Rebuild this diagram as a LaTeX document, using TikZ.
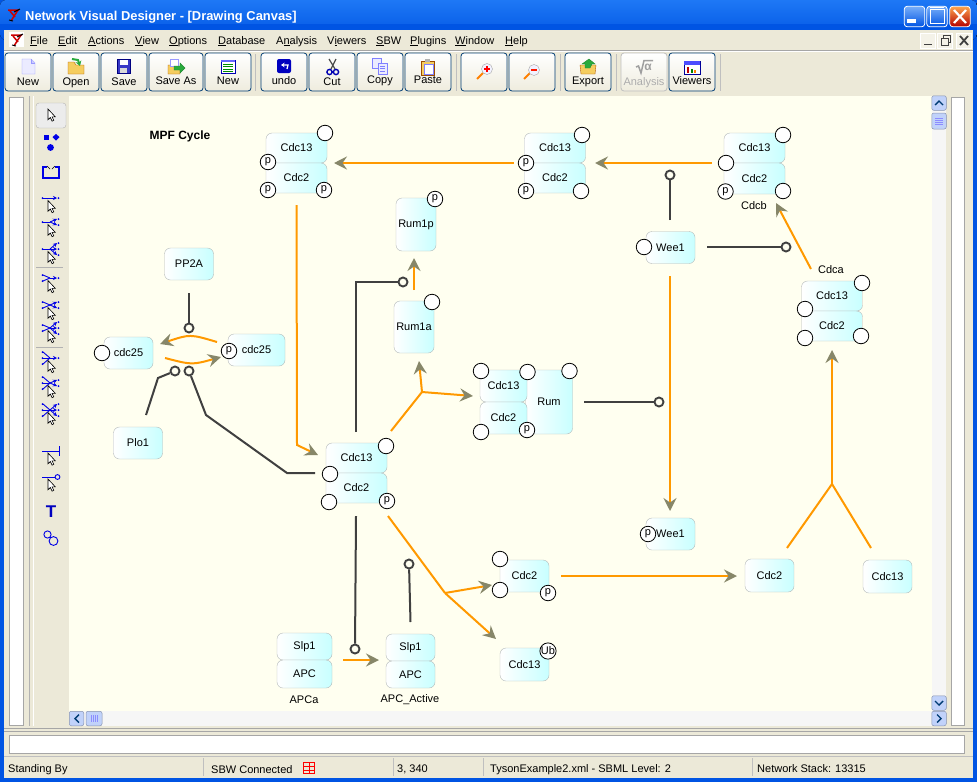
\documentclass[tikz,border=0pt]{standalone}
\usepackage{fontspec}
\usepackage{xcolor}
\usepackage{tikz}
\usetikzlibrary{arrows.meta}
\setmainfont{Liberation Sans}
\definecolor{xpblue}{RGB}{0, 84, 227}
\definecolor{xplight}{RGB}{30, 120, 245}
\definecolor{xpface}{RGB}{236, 233, 216}
\definecolor{canvas}{RGB}{255, 255, 240}
\definecolor{boxgray}{RGB}{180, 185, 185}
\definecolor{boxcyan}{RGB}{200, 255, 255}
\definecolor{lorange}{RGB}{255, 153, 0}
\definecolor{tipgray}{RGB}{135, 135, 105}
\definecolor{ldark}{RGB}{64, 64, 64}
\definecolor{btnblue}{RGB}{0, 60, 116}
\definecolor{scrollb}{RGB}{193, 210, 250}
\definecolor{toolblue}{RGB}{0, 0, 230}
\definecolor{ficon}{RGB}{245, 205, 95}
\definecolor{gicon}{RGB}{40, 170, 60}
\tikzset{
	lab/.style = {font = \fontsize{11}{13}\selectfont, inner sep = 0},
	spec/.style = {draw = boxgray, rounded corners = 6, left color = white, right color = boxcyan,
		minimum width = 49, minimum height = 32, inner sep = 0, font = \fontsize{11}{13}\selectfont},
	cplx/.style = {spec, minimum width = 61, minimum height = 30},
	site/.style = {circle, draw = black, fill = white, minimum size = 15.5, inner sep = 0, line width = 0.8,
		font = \fontsize{11}{11}\selectfont},
	knob/.style = {circle, draw = ldark, fill = canvas, minimum size = 9, inner sep = 0, line width = 1.9},
	conv/.style = {draw = lorange, line width = 2, -{Stealth[length = 13pt, width = 13pt, inset = 4.5pt, color = tipgray]}},
	feed/.style = {draw = lorange, line width = 2},
	ctrl/.style = {draw = ldark, line width = 2},
	toolbtn/.style = {draw = btnblue, rounded corners = 3, top color = white, bottom color = xpface!85!white,
		minimum height = 38, inner sep = 0, line width = 0.8},
	winbtn/.style = {draw = white, rounded corners = 3, minimum size = 20.5, inner sep = 0, line width = 0.8,
		top color = xplight!60!white, bottom color = xpblue},
	sbtn/.style = {draw = scrollb!70!black, rounded corners = 2, fill = scrollb, minimum size = 14.5, inner sep = 0, line width = 0.5},
	tool/.style = {draw = toolblue, line width = 0.9},
	toolhead/.style = {tool, -{Stealth[length = 4pt, width = 4pt]}},
	panel/.style = {draw = gray!70, fill = white, line width = 0.8}
}
% arrow cursor of the tool palette
\newcommand{\curs}[2]{\draw[black, fill = white, line width = 0.6, shift = {(#1,#2)}, scale = 0.9]
	(0,0) -- (0,12) -- (2.6,9.5) -- (4.6,13.5) -- (6.4,12.6) -- (4.5,8.8) -- (8,8.6) -- cycle;}
% logo of the application
\newcommand{\logo}[2]{\draw[red!80!black, line width = 1.5, shift = {(#1,#2)}] (1,2) -- (12,2) (11,2) -- (4,13) (3,3) -- (8,9);
	\draw[black, line width = 0.9, shift = {(#1,#2)}] (7,4) -- (13,1) (2,12) -- (6,13);}
\begin{document}
\begin{tikzpicture}[x = 1pt, y = -1pt]
	\useasboundingbox (0,0) rectangle (977,782);
	% window frame
	\fill[xpblue] (0,0) rectangle (977,782);
	\fill[top color = xplight, bottom color = xpblue, rounded corners = 6] (0,0) rectangle (977,40);
	\fill[xpblue] (0,24) rectangle (977,30);
	\fill[xpface] (4,30) rectangle (973,778);
	\logo{7}{8}
	\node (title) at (25,17) [anchor = west, inner sep = 0, text = white, font = \fontsize{12.9}{14}\bfseries\selectfont] {Network Visual Designer - [Drawing Canvas]};
	\node (wmin) at (914.5,16.5) [winbtn] {};
	\node (wmax) at (937,16.5) [winbtn] {};
	\node (wclose) at (960,16.5) [winbtn, top color = orange!70!white, bottom color = red!70!black] {};
	\fill[white] (907,19) rectangle (916,23);
	\draw[white, line width = 1] (930,9.5) rectangle (944,23);
	\draw[white, line width = 1.8] (930,7.5) -- (944,7.5);
	\draw[white, line width = 2.2] (954,10) -- (966,23) (966,10) -- (954,23);
	% menu bar
	\fill[white] (9,32) rectangle (24,47);
	\logo{10}{33}
	\foreach \mname/\mx/\mtext in {a/30/\underline{F}ile, b/58/\underline{E}dit, c/88/\underline{A}ctions, d/135/\underline{V}iew,
		e/169/\underline{O}ptions, f/218/\underline{D}atabase, g/276/A\underline{n}alysis, h/327/V\underline{i}ewers,
		i/376/\underline{S}BW, j/410/\underline{P}lugins, k/455/\underline{W}indow, l/505/\underline{H}elp}
		\node (m\mname) at (\mx,44) [lab, anchor = base west] {\mtext};
	\foreach \cx in {928,945,964}
		\node (c\cx) at (\cx,40.5) [draw = white, fill = xpface!60!white, minimum size = 15, inner sep = 0] {};
	\draw[ldark, line width = 1.6] (924,44.5) -- (932,44.5);
	\draw[ldark, line width = 1] (941,38) rectangle (948,45) (943,38) -- (943,35.5) -- (950,35.5) -- (950,42) -- (948,42);
	\draw[ldark, line width = 1.8] (960,36) -- (968,45) (968,36) -- (960,45);
	\draw[gray!70] (4,50.5) -- (973,50.5);
	\draw[white] (4,51.5) -- (973,51.5);
	% tool bar
	\foreach \bname/\bx/\bw/\ly/\blab in {a/28/46/83/New, b/76/46/83/Open, c/124/46/83/Save, d/176/54/82/Save As, e/228/46/82/New,
		f/284/46/82/undo, g/332/46/83/Cut, h/380/46/81/Copy, i/428/46/81/Paste, j/588/46/82/Export, k/692/46/82/Viewers}{
		\node (b\bname) at (\bx,72) [toolbtn, minimum width = \bw] {};
		\node (t\bname) at (\bx,\ly) [lab] {\strut\blab};
	}
	\node (bzi) at (484,72) [toolbtn, minimum width = 46] {};
	\node (bzo) at (532,72) [toolbtn, minimum width = 46] {};
	\node (bana) at (644,72) [toolbtn, minimum width = 46, draw = gray!50] {};
	\node (tana) at (644,83) [lab, text = gray!65] {\strut Analysis};
	\draw[gray!75, line width = 1.5] (636,67) -- (638.5,66) -- (641,73) -- (644,60.5) -- (653,60.5);
	\node (sq) at (648,67) [inner sep = 0, text = gray!75, font = \fontsize{12}{12}\bfseries\selectfont] {α};
	\foreach \sx in {255.5,456,560,616,720}
		\draw[gray!50, line width = 1] (\sx,54) -- (\sx,91);
	% tool bar icons
	\draw[blue!40, fill = blue!8] (22,59) -- (31,59) -- (35,63) -- (35,74) -- (22,74) -- cycle;
	\draw[blue!40, fill = blue!20] (31,59) -- (31,63) -- (35,63);
	\draw[orange!70!black, fill = ficon] (68,62) -- (74,62) -- (76,65) -- (84,65) -- (84,74) -- (68,74) -- cycle;
	\draw[gicon, line width = 2, -{Stealth[length = 5pt, width = 6pt]}] (72,59) -- (78,60) -- (80,66);
	\draw[blue!50!black, fill = blue!55!gray] (117,59) rectangle (130,73);
	\fill[white] (119.5,59.5) rectangle (127.5,65);
	\fill[gray!30] (120,68) rectangle (127,73);
	\draw[orange!70!black, fill = ficon] (168,65) -- (173,65) -- (175,67) -- (180,67) -- (180,74) -- (168,74) -- cycle;
	\draw[blue!40, fill = white] (170,59) rectangle (178,66);
	\draw[gicon!80!black, fill = gicon] (174,66) -- (180,66) -- (180,63) -- (185,68) -- (180,73) -- (180,70) -- (174,70) -- cycle;
	\draw[blue!70!black, fill = white, line width = 0.8] (221,60) rectangle (235,73);
	\fill[blue!60] (221,60) rectangle (235,62);
	\foreach \ly in {64,66.5,69,71.5}
		\draw[green!55!black, line width = 1] (223,\ly) -- (233,\ly);
	\fill[blue!75!black, rounded corners = 2] (277,59) rectangle (291,73);
	\draw[white, line width = 1.3, -{Stealth[length = 3.5pt, width = 4.5pt]}] (287,69) -- (288,65) -- (281,65);
	\draw[gray!60!black, line width = 1.2] (329,59) -- (335,69) (336,59) -- (331,69);
	\draw[blue!70!black, line width = 1.4] (329.5,72) circle (2.6) (336,72) circle (2.6);
	\draw[blue!50, fill = blue!8] (372,58) rectangle (381,68);
	\draw[blue!50, fill = blue!8] (378,63) rectangle (387,74);
	\foreach \ly in {66,68.5,71}
		\draw[blue!50] (380,\ly) -- (385,\ly);
	\draw[orange!60!black, fill = ficon] (421,61) rectangle (434,75);
	\fill[gray!60] (425,59) rectangle (430,62);
	\draw[blue!50, fill = white] (424,64) rectangle (433,74);
	\draw[orange, line width = 2] (477,79) -- (483,73);
	\draw[gray!70, fill = blue!5] (487,69) circle (5.5);
	\draw[red, line width = 1.3] (484,69) -- (490,69) (487,66) -- (487,72);
	\draw[orange, line width = 2] (524,79) -- (530,73);
	\draw[gray!70, fill = blue!5] (534,70) circle (5.5);
	\draw[red!80!orange, line width = 1.4] (531,70) -- (537,70);
	\draw[orange!70!black, fill = ficon] (580,65) -- (596,65) -- (595,74) -- (581,74) -- cycle;
	\draw[gicon!80!black, fill = gicon] (585,68) -- (585,64) -- (582,64) -- (589,59) -- (595,64) -- (592,64) -- (590,68) -- cycle;
	\draw[blue!60!black, fill = white] (684,61) rectangle (700,74);
	\fill[blue!70!white] (684,61) rectangle (700,64.5);
	\fill[red!75!black] (687,67) rectangle (689,73);
	\fill[green!50!black] (690.5,69) rectangle (692.5,73);
	\fill[orange] (694,70) rectangle (696,73);
	% side strips and palette
	\draw[panel] (9.5,97.5) rectangle (23,725);
	\draw[panel] (951,97.5) rectangle (964,725);
	\draw[white] (33,96) -- (33,726);
	\draw[gray!60] (29,96) -- (29,726);
	% canvas
	\fill[canvas] (69,96) rectangle (932,711);
	\fill[gray!7] (932,96) rectangle (946,711);
	\fill[gray!7] (69,711) rectangle (946,726);
	% scroll bars
	\node (sup) at (939,103) [sbtn] {};
	\node (sth) at (939,121) [sbtn, minimum height = 16] {};
	\node (sdn) at (939,703) [sbtn] {};
	\node (slf) at (76.5,718.5) [sbtn] {};
	\node (sht) at (94,718.5) [sbtn, minimum width = 16] {};
	\node (srt) at (939,718.5) [sbtn] {};
	\draw[btnblue, line width = 1.4] (935,105) -- (939,101) -- (943,105) (935,701) -- (939,705) -- (943,701);
	\draw[btnblue, line width = 1.4] (79,714.5) -- (75,718.5) -- (79,722.5) (937,714.5) -- (941,718.5) -- (937,722.5);
	\foreach \ly in {118,120,122,124}
		\draw[blue!45] (935,\ly) -- (943,\ly);
	\foreach \lx in {91,93,95,97}
		\draw[blue!45] (\lx,715) -- (\lx,722);
	% palette icons
	\node (tsel) at (51,115.5) [draw = gray!60, fill = gray!15, rounded corners = 3, minimum width = 30, minimum height = 25, inner sep = 0] {};
	\curs{48}{109}
	\fill[toolblue] (43.5,134.5) rectangle (48.5,140);
	\fill[toolblue] (56,134) -- (59.5,137) -- (56,140.5) -- (52.5,137) -- cycle;
	\fill[toolblue] (50.5,147.5) circle (3.4);
	\draw[toolblue, line width = 2] (43,167) rectangle (59,177.5);
	\fill[xpface] (47,165) rectangle (55,169);
	\draw[black, line width = 0.7] (47,166) -- (50,169) (55,166) -- (52,169);
	\foreach \ni/\no/\yy in {1/1/198, 1/2/222, 1/3/249, 2/1/278, 2/2/305, 2/3/328, 3/1/358, 3/2/383, 3/3/410}{
		\foreach \k in {1,...,\ni}{
			\draw[tool] (43,{\yy+(\k-(\ni+1)/2)*6}) -- (50,\yy);
			\fill[toolblue] (42.5,{\yy+(\k-(\ni+1)/2)*6}) circle (1);
		}
		\foreach \k in {1,...,\no}{
			\draw[toolhead] (50,\yy) -- (57,{\yy+(\k-(\no+1)/2)*6});
			\fill[toolblue] (58.5,{\yy+(\k-(\no+1)/2)*6}) circle (1);
		}
		\curs{48}{\yy+2.5}
	}
	\draw[tool, line width = 1] (42,451) -- (59,451) (59,446) -- (59,456);
	\curs{48}{453}
	\draw[tool, line width = 1] (42,477) -- (55,477);
	\draw[tool] (57.5,477) circle (2.4);
	\curs{48}{479}
	\draw[gray!60] (36,267) -- (63,267) (36,347) -- (63,347);
	\node (ttool) at (51,512) [inner sep = 0, text = blue!75!black, font = \fontsize{17}{17}\bfseries\selectfont] {T};
	\draw[tool] (47.5,534.5) circle (3.6) (53.5,541) circle (4.4);
	% message panel and status bar
	\draw[gray!70] (4,728.5) -- (973,728.5) (4,731.5) -- (973,731.5);
	\draw[panel] (9.5,735.5) rectangle (964.5,753.5);
	\draw[gray!50] (4,756) -- (973,756);
	\foreach \dx in {203,393,483,752}
		\draw[gray!50] (\dx,758) -- (\dx,776);
	\node (st1) at (8,772) [lab, anchor = base west] {Standing By};
	\node (st2) at (211,773) [lab, anchor = base west] {SBW Connected};
	\node (st3) at (397,772) [lab, anchor = base west] {3, 340};
	\node (st4) at (490,772) [lab, anchor = base west] {TysonExample2.xml - SBML Level: 2};
	\node (st5) at (757,772) [lab, anchor = base west] {Network Stack: 13315};
	\draw[red, line width = 1] (303.5,762.5) rectangle (314.5,773.5) (303.5,766) -- (314.5,766) (303.5,770) -- (314.5,770) (309,762.5) -- (309,773.5);
	% diagram: title
	\node (mpf) at (180,136.5) [lab, font = \fontsize{12}{14}\bfseries\selectfont] {MPF Cycle};
	% top left complex
	\node (a13) at (296.5,148) [cplx] {Cdc13};
	\node (a2) at (296.5,178) [cplx] {Cdc2};
	\node (as1) at (325,133) [site] {};
	\node (as2) at (268,162) [site] {p};
	\node (as3) at (268,190) [site] {p};
	\node (as4) at (324,190) [site] {p};
	% top middle complex
	\node (b13) at (555,148) [cplx] {Cdc13};
	\node (b2) at (555,178) [cplx] {Cdc2};
	\node (bs1) at (582,135) [site] {};
	\node (bs2) at (526,163) [site] {p};
	\node (bs3) at (526,191) [site] {p};
	\node (bs4) at (581,191) [site] {};
	% Cdcb
	\node (c13) at (754.5,148) [cplx] {Cdc13};
	\node (c2) at (754.5,178.5) [cplx, minimum height = 31] {Cdc2};
	\node (cs1) at (783,135) [site] {};
	\node (cs2) at (726,163) [site] {};
	\node (cs3) at (725.5,191.5) [site] {p};
	\node (cs4) at (783,191) [site] {};
	\node (cdcb) at (754,206) [lab] {Cdcb};
	% Cdca
	\node (cdca) at (831,270) [lab] {Cdca};
	\node (d13) at (832,296) [cplx] {Cdc13};
	\node (d2) at (832,326) [cplx] {Cdc2};
	\node (ds1) at (862,283) [site] {};
	\node (ds2) at (805,309) [site] {};
	\node (ds3) at (805,338) [site] {};
	\node (ds4) at (861,336) [site] {};
	% Wee1
	\node (wee) at (670.5,247.5) [spec] {Wee1};
	\node (wees) at (644,247) [site] {};
	\node (weep) at (670.5,534) [spec] {Wee1};
	\node (weeq) at (648,534) [site] {p};
	% Rum1
	\node (rump) at (416,224.5) [spec, minimum width = 40, minimum height = 53] {Rum1p};
	\node (rumps) at (435,199) [site] {p};
	\node (ruma) at (414,327) [spec, minimum width = 40, minimum height = 52] {Rum1a};
	\node (rumas) at (432,302) [site] {};
	% Rum complex
	\node (rbig) at (549,402) [spec, minimum width = 47, minimum height = 64] {Rum};
	\node (r13) at (503.5,386) [spec, minimum width = 47] {Cdc13};
	\node (r2) at (503.5,418) [spec, minimum width = 47] {Cdc2};
	\node (rs1) at (481,371) [site] {};
	\node (rs2) at (527.5,372) [site] {};
	\node (rs3) at (569.5,371) [site] {};
	\node (rs4) at (481,432) [site] {};
	\node (rs5) at (527,430) [site] {p};
	% central complex
	\node (m13) at (356.5,458) [cplx] {Cdc13};
	\node (m2) at (356.5,488) [cplx] {Cdc2};
	\node (ms1) at (386,446) [site] {};
	\node (ms2) at (330,474) [site] {};
	\node (ms3) at (329,502) [site] {};
	\node (ms4) at (387,501) [site] {p};
	% cdc25 pair
	\node (pp) at (189,264) [spec] {PP2A};
	\node (cl) at (128.5,353) [spec] {cdc25};
	\node (cls) at (102,353) [site] {};
	\node (cr) at (256.5,350) [spec, minimum width = 57] {cdc25};
	\node (crs) at (229,351) [site] {p};
	\node (plo) at (138,443) [spec] {Plo1};
	% free Cdc2 and Cdc13
	\node (f2) at (524.5,576) [spec] {Cdc2};
	\node (fs1) at (500,559) [site] {};
	\node (fs2) at (500,590) [site] {};
	\node (fs3) at (548,593) [site] {p};
	\node (g2) at (769.5,575.5) [spec, minimum height = 33] {Cdc2};
	\node (g13) at (887.5,576.5) [spec, minimum height = 33] {Cdc13};
	\node (ub) at (524.5,664.5) [spec, minimum height = 33] {Cdc13};
	\node (ubs) at (548,651) [site] {Ub};
	% APC
	\node (sa) at (304.5,646.5) [spec, minimum width = 55, minimum height = 27] {Slp1};
	\node (aa) at (304.5,674) [spec, minimum width = 55, minimum height = 28] {APC};
	\node (apca) at (304,700) [lab] {APCa};
	\node (sb) at (410.5,647.5) [spec, minimum height = 27] {Slp1};
	\node (ab) at (410.5,674.5) [spec, minimum height = 27] {APC};
	\node (apcb) at (410,700) [lab] {APC\_Active};
	% end points of the connectors
	\coordinate (e1) at (712,163);
	\coordinate (e2) at (595,163);
	\coordinate (e3) at (514,163);
	\coordinate (e4) at (334,163);
	\coordinate (e5) at (296.5,205);
	\coordinate (e6) at (297,445);
	\coordinate (e7) at (318,455);
	\coordinate (e8) at (670,276);
	\coordinate (e9) at (670,511);
	\coordinate (e10) at (811,269);
	\coordinate (e11) at (776,203);
	\coordinate (e12) at (832,484);
	\coordinate (e13) at (787,548);
	\coordinate (e14) at (871,548);
	\coordinate (e15) at (832,350);
	\coordinate (e16) at (561,576);
	\coordinate (e17) at (737,576);
	\coordinate (e18) at (388,516);
	\coordinate (e19) at (445,593);
	\coordinate (e20) at (496,639);
	\coordinate (e21) at (492,585);
	\coordinate (e22) at (391,431);
	\coordinate (e23) at (422,392);
	\coordinate (e24) at (419,361);
	\coordinate (e25) at (473,396);
	\coordinate (e26) at (414,290);
	\coordinate (e27) at (414,258);
	\coordinate (e28) at (343,660);
	\coordinate (e29) at (379,660);
	% cdc25 exchange
	\coordinate (h1) at (217,342);
	\coordinate (h2) at (190,334);
	\coordinate (h3) at (160,344);
	\coordinate (h4) at (165,358);
	\coordinate (h5) at (192,365);
	\coordinate (h6) at (221,357);
	% activators
	\coordinate (q1) at (670,220);
	\node (k1) at (670,175) [knob] {};
	\coordinate (q2) at (707,247);
	\node (k2) at (786,247) [knob] {};
	\coordinate (q3) at (584,402);
	\node (k3) at (659,402) [knob] {};
	\coordinate (q4) at (356,432);
	\coordinate (q5) at (356,282);
	\node (k4) at (403,282) [knob] {};
	\coordinate (q6) at (189,293);
	\node (k5) at (189,328) [knob] {};
	\coordinate (q7) at (146,415);
	\coordinate (q8) at (158,378);
	\node (k6) at (175,371) [knob] {};
	\coordinate (q9) at (315,473);
	\coordinate (q10) at (287,473);
	\coordinate (q11) at (206,415);
	\node (k7) at (189,371) [knob] {};
	\coordinate (q12) at (356,516);
	\node (k8) at (355,649) [knob] {};
	\coordinate (q13) at (410.5,622);
	\node (k9) at (409,564) [knob] {};
	% connectors
	\draw[conv] (e1) -- (e2);
	\draw[conv] (e3) -- (e4);
	\draw[conv] (e5) -- (e6) -- (e7);
	\draw[conv] (e8) -- (e9);
	\draw[conv] (e10) -- (e11);
	\draw[feed] (e13) -- (e12);
	\draw[feed] (e14) -- (e12);
	\draw[conv] (e12) -- (e15);
	\draw[conv] (e16) -- (e17);
	\draw[feed] (e18) -- (e19);
	\draw[conv] (e19) -- (e20);
	\draw[conv] (e19) -- (e21);
	\draw[feed] (e22) -- (e23);
	\draw[conv] (e23) -- (e24);
	\draw[conv] (e23) -- (e25);
	\draw[conv] (e26) -- (e27);
	\draw[conv] (e28) -- (e29);
	\draw[conv] (h1) .. controls (h2) .. (h3);
	\draw[conv] (h4) .. controls (h5) .. (h6);
	\draw[ctrl] (q1) -- (k1);
	\draw[ctrl] (q2) -- (k2);
	\draw[ctrl] (q3) -- (k3);
	\draw[ctrl] (q4) -- (q5) -- (k4);
	\draw[ctrl] (q6) -- (k5);
	\draw[ctrl] (q7) -- (q8) -- (k6);
	\draw[ctrl] (q9) -- (q10) -- (q11) -- (k7);
	\draw[ctrl] (q12) -- (k8);
	\draw[ctrl] (q13) -- (k9);
\end{tikzpicture}
\end{document}
